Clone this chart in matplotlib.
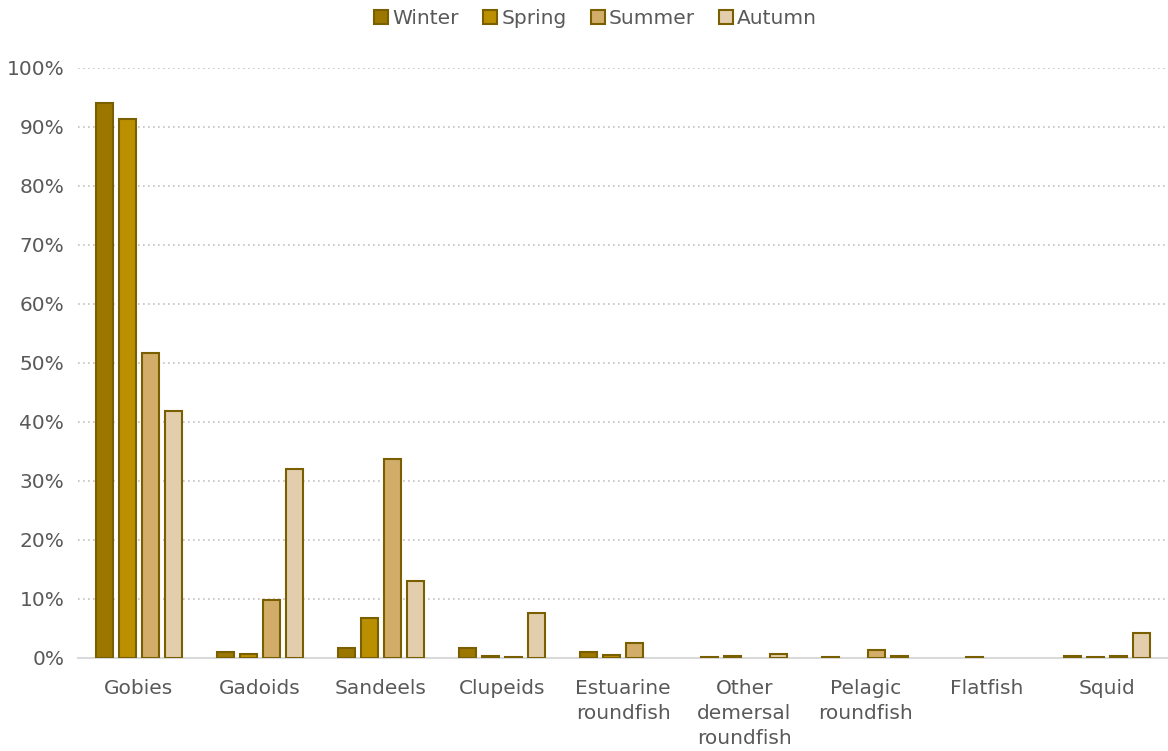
import matplotlib.pyplot as plt
import numpy as np
from matplotlib.patches import Patch

plt.rcParams['font.family'] = ['DejaVu Sans']

categories = ['Gobies', 'Gadoids', 'Sandeels', 'Clupeids', 'Estuarine\nroundfish',
              'Other\ndemersal\nroundfish', 'Pelagic\nroundfish', 'Flatfish', 'Squid']
seasons = ['Winter', 'Spring', 'Summer', 'Autumn']

winter = [94.1, 1.0, 1.7, 1.7, 1.0, 0.1, 0.1, 0.0, 0.3]
spring = [91.4, 0.7, 6.8, 0.3, 0.5, 0.4, 0.0, 0.1, 0.1]
summer = [51.7, 9.8, 33.7, 0.1, 2.5, 0.0, 1.4, 0.0, 0.4]
autumn = [41.9, 32.0, 13.1, 7.6, 0.0, 0.6, 0.3, 0.0, 4.3]

colors = ['#9B7700', '#BA8F00', '#D1AD69', '#E2CEAC']
edge = '#7A5F00'
text_col = '#595959'

fig = plt.figure(figsize=(11.68, 7.51), dpi=100)
ax = fig.add_axes([0.067, 0.124, 0.933, 0.7855])

x = np.arange(len(categories))
width = 0.14
step = 0.19
for i, (vals, c) in enumerate(zip([winter, spring, summer, autumn], colors)):
    vals = np.array(vals) / 100
    keep = vals > 0  # zero values are not drawn at all
    ax.bar((x + (i - 1.5) * step)[keep], vals[keep], width, color=c,
           edgecolor=edge, linewidth=1.5, zorder=3)

ax.set_xlim(-0.5, len(categories) - 0.5)
ax.set_ylim(0, 1)
ticks = np.arange(0, 1.01, 0.1)
ax.set_yticks(ticks)
ax.set_yticklabels([f'{int(round(v * 100))}%' for v in ticks])
ax.set_xticks(x)
ax.set_xticklabels(categories, linespacing=1.4)
ax.yaxis.grid(True, linestyle=(0, (1, 2)), color='#C8C0C0', linewidth=1.2, zorder=0)
ax.tick_params(axis='both', length=0, labelsize=14.5, labelcolor=text_col)
ax.tick_params(axis='y', pad=10)
ax.tick_params(axis='x', pad=15)
for s in ['top', 'right', 'left']:
    ax.spines[s].set_visible(False)
ax.spines['bottom'].set_color('#D9D9D9')
ax.spines['bottom'].set_linewidth(1.5)

handles = [Patch(facecolor=c, edgecolor=edge, linewidth=1.5, label=s) for s, c in zip(seasons, colors)]
fig.legend(handles=handles, loc='upper center', bbox_to_anchor=(0.51, 1.012), ncol=4,
           frameon=False, fontsize=14.5, labelcolor=text_col, handlelength=0.7,
           handleheight=0.7, handletextpad=0.2, columnspacing=1.2)

fig.savefig('out.png', dpi=100)
